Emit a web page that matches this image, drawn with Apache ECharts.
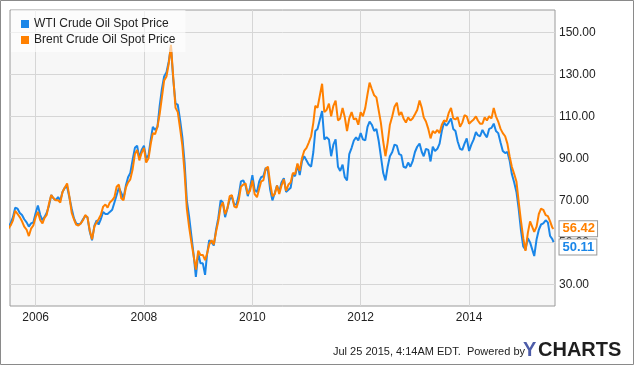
<!DOCTYPE html>
<html>
<head>
<meta charset="utf-8">
<script src="https://cdn.jsdelivr.net/npm/echarts@6/dist/echarts.min.js"></script>
<style>
  html, body { margin: 0; padding: 0; background: #fff; }
  #chart { width: 635px; height: 366px; }
</style>
</head>
<body>
<div id="chart"></div>
<script>
var chartDom = document.getElementById('chart');
var chart = echarts.init(chartDom, null, { renderer: 'canvas' });

// sampling: two points per month (1st and 16th), starting July 2005
var startYear = 2005, startMonth = 7;
var lastDate = '2015-07-24';

// WTI Crude Oil Spot Price, two values per month
var wti = [
  57.5, 59.0,  62.0, 66.5,  66.0, 64.0,  63.0, 61.0,  59.5, 57.5,  59.0, 59.5,
  64.0, 67.5,  63.0, 60.5,  62.0, 64.0,  67.5, 72.5,  71.0, 70.0,  71.5, 70.0,
  74.0, 76.0,  76.5, 71.5,  66.0, 61.5,  59.0, 58.5,  59.0, 61.0,  62.5, 62.0,
  55.0, 51.0,  58.0, 60.5,  58.5, 61.0,  64.5, 63.5,  63.5, 64.5,  65.5, 69.0,
  72.5, 76.0,  73.5, 71.0,  77.0, 81.0,  83.0, 89.0,  95.0, 96.0,  90.0, 94.0,
  96.0, 90.0,  91.5, 99.0,  105.0, 103.5,  105.0, 115.0,  123.0, 129.0,  131.0, 136.0,
  143.0, 128.0,  116.0, 115.5,  108.0, 100.0,  88.0, 70.0,  62.0, 53.0,  44.0, 33.5,
  45.0, 40.0,  40.0, 34.5,  44.0, 51.0,  50.0, 48.5,  56.0, 61.5,  70.0, 69.0,
  62.0, 66.0,  70.5, 71.5,  68.0, 68.0,  72.5, 79.0,  79.5, 77.0,  72.0, 76.0,
  82.0, 75.0,  74.0, 79.0,  81.0, 81.5,  85.5, 84.0,  75.0, 70.0,  73.5, 77.0,
  74.0, 78.5,  80.5, 74.0,  75.0, 76.0,  82.5, 81.5,  87.0, 82.0,  88.5, 91.0,
  89.0, 87.0,  86.0, 93.0,  103.0, 104.0,  108.5, 112.5,  99.0, 100.0,  99.0, 91.0,
  96.5, 99.0,  86.0, 84.0,  87.0, 81.0,  79.5, 92.0,  95.0, 98.5,  100.0, 98.5,
  102.0, 99.0,  98.5, 105.0,  107.5, 106.0,  103.0, 104.0,  98.5, 91.0,  83.0, 79.5,
  86.0, 91.0,  93.0, 96.5,  96.0, 92.0,  91.5, 86.0,  85.5, 88.0,  86.0, 88.5,
  93.0, 95.5,  97.0, 93.0,  91.0, 94.5,  94.0, 88.5,  95.5, 93.5,  94.5, 97.0,
  103.0, 107.0,  105.5, 107.0,  109.0, 104.0,  103.0, 98.0,  94.5, 94.0,  97.0, 99.5,
  93.5, 96.5,  99.0, 102.5,  101.0, 100.5,  103.5, 101.5,  100.0, 104.0,  104.5, 106.5,
  103.0, 102.0,  97.5, 93.5,  92.5, 93.0,  89.0, 82.5,  78.5, 74.0,  66.0, 56.0,
  48.0, 46.5,  52.0, 50.0,  49.5, 43.5,  51.5, 56.0,  58.5, 59.0,  60.5, 59.5,
  53.0, 51.5,
  50.11
];

// Brent Crude Oil Spot Price, two values per month
var brent = [
  56.5, 58.0,  60.5, 65.0,  63.5, 62.0,  60.0, 57.5,  56.0, 53.0,  56.5, 58.0,
  62.0, 64.5,  60.5, 59.0,  61.5, 63.0,  68.5, 72.5,  71.0, 70.0,  70.0, 69.0,
  74.0, 76.0,  78.0, 72.0,  64.0, 61.0,  58.5, 58.0,  59.0, 60.5,  63.0, 62.0,
  55.5, 51.5,  57.5, 59.5,  61.0, 63.0,  67.0, 68.0,  66.5, 69.0,  70.0, 71.5,
  76.5, 77.5,  71.0, 70.0,  76.0, 78.5,  80.0, 84.5,  92.0, 94.0,  89.0, 92.5,
  95.0, 88.0,  90.0, 97.0,  102.0, 101.5,  105.0, 111.0,  119.0, 127.0,  129.0, 135.0,
  144.0, 129.0,  114.0, 112.0,  104.0, 96.0,  83.0, 66.0,  57.0, 50.0,  43.5, 37.0,
  46.0, 44.0,  44.0, 41.5,  44.5, 49.0,  51.0, 49.0,  55.0, 60.0,  67.0, 69.0,
  63.5, 66.0,  72.0, 72.5,  67.0, 66.5,  70.0, 76.5,  77.5, 78.0,  73.0, 74.5,
  79.5, 73.0,  71.5, 75.5,  79.0, 79.5,  85.0, 86.0,  78.0, 72.0,  73.0, 77.0,
  73.0, 77.0,  80.0, 74.5,  77.5, 78.5,  83.0, 82.5,  87.5, 84.0,  90.0, 93.5,
  95.0, 97.5,  100.5, 107.0,  115.0, 114.0,  120.0, 125.5,  112.0, 113.0,  116.0, 110.0,
  115.0, 117.5,  108.0, 109.0,  114.0, 109.5,  103.0, 109.0,  112.0, 108.5,  109.0, 106.0,
  112.0, 110.0,  114.0, 120.5,  126.0, 123.0,  120.0, 119.0,  113.0, 107.0,  98.0, 91.0,
  97.5, 106.0,  110.0, 114.5,  116.5, 110.5,  112.0, 109.0,  107.0, 109.5,  108.0, 109.0,
  111.0, 113.0,  117.5, 114.0,  109.5, 107.5,  104.0, 99.5,  103.0, 102.0,  103.5, 102.0,
  106.0, 108.0,  107.5, 111.5,  114.0, 109.0,  108.5, 109.5,  105.0, 107.0,  110.5, 110.0,
  106.5, 107.5,  108.5, 110.0,  108.0, 106.5,  106.5, 109.5,  108.0, 110.0,  109.0, 114.0,
  110.0, 107.5,  104.0, 102.0,  100.5, 97.0,  91.0, 86.0,  82.5, 79.0,  69.5, 60.5,
  52.0, 46.0,  54.5, 60.0,  59.5, 55.0,  57.5, 63.5,  66.0, 65.5,  63.0, 62.5,
  60.0, 57.0,
  56.42
];

var yTicks = [30, 50, 70, 90, 110, 130, 150];
var xTickYears = [2006, 2008, 2010, 2012, 2014];

function pad(n) { return n < 10 ? '0' + n : '' + n; }
function toTime(s) { var p = s.split('-'); return new Date(+p[0], +p[1] - 1, +p[2]).getTime(); }

var dates = [];
for (var i = 0; i < wti.length - 1; i++) {
  var m = startMonth - 1 + Math.floor(i / 2);
  var y = startYear + Math.floor(m / 12);
  var day = i % 2 === 0 ? '01' : '16';
  dates.push(y + '-' + pad(m % 12 + 1) + '-' + day);
}
dates.push(lastDate);

function pairs(values) {
  return values.map(function (v, i) { return [toTime(dates[i]), v]; });
}

var xTicks = xTickYears.map(function (y) { return new Date(y, 0, 1).getTime(); });

var blue = '#1a86e8';
var orange = '#ff8000';

function endLabel(color, offsetY) {
  return {
    show: true,
    formatter: function (p) { return p.value[1].toFixed(2); },
    color: color, fontWeight: 'bold', fontSize: 13,
    fontFamily: 'Liberation Sans, Arial',
    backgroundColor: '#fff', borderColor: '#999', borderWidth: 1,
    padding: [1, 2, 1, 3], distance: 6, offset: [0, offsetY]
  };
}

var option = {
  animation: false,
  grid: {
    left: 10, top: 10, width: 545, height: 296,
    show: true, backgroundColor: '#f7f7f7', borderColor: '#9a9a9a', borderWidth: 1
  },
  legend: {
    orient: 'vertical',
    left: 11, top: 10,
    padding: [7, 10, 5, 10],
    itemGap: 2,
    itemWidth: 8, itemHeight: 8,
    icon: 'rect',
    backgroundColor: 'rgba(255,255,255,0.6)',
    textStyle: { fontFamily: 'Liberation Sans, Arial', fontSize: 12, color: '#222', lineHeight: 14 },
    data: ['WTI Crude Oil Spot Price', 'Brent Crude Oil Spot Price']
  },
  xAxis: {
    type: 'value',
    min: toTime('2005-07-12'), max: toTime('2015-08-03'),
    axisLine: { show: false },
    axisTick: { show: false, customValues: xTicks },
    axisLabel: {
      customValues: xTicks,
      formatter: function (v) { return String(new Date(v).getFullYear()); },
      fontFamily: 'Liberation Sans, Arial', fontSize: 12, color: '#222', margin: 6
    },
    splitLine: { show: true, lineStyle: { color: '#d6d6d6', width: 1 } }
  },
  yAxis: {
    type: 'value',
    position: 'right',
    min: 19.7, max: 160.6,
    axisLine: { show: false },
    axisTick: { show: false, customValues: yTicks },
    axisLabel: {
      customValues: yTicks,
      formatter: function (v) { return v.toFixed(2); },
      fontFamily: 'Liberation Sans, Arial', fontSize: 12, color: '#222', margin: 4
    },
    splitLine: { show: true, lineStyle: { color: '#d6d6d6', width: 1 } }
  },
  series: [
    {
      name: 'WTI Crude Oil Spot Price',
      type: 'line',
      data: pairs(wti),
      showSymbol: false,
      color: blue,
      lineStyle: { width: 2, color: blue },
      endLabel: endLabel(blue, 5)
    },
    {
      name: 'Brent Crude Oil Spot Price',
      type: 'line',
      data: pairs(brent),
      showSymbol: false,
      color: orange,
      lineStyle: { width: 2, color: orange },
      endLabel: endLabel(orange, 0)
    }
  ],
  graphic: [
    {
      type: 'rect', silent: true,
      shape: { x: 0.5, y: 0.5, width: 633, height: 364 },
      style: { fill: 'none', stroke: '#8a8a8a', lineWidth: 1 }
    },
    {
      type: 'text', left: 333, top: 346,
      style: { text: 'Jul 25 2015, 4:14AM EDT.  Powered by', font: '11px Liberation Sans, Arial', fill: '#222' }
    },
    {
      type: 'text', left: 523, top: 340,
      style: { text: 'Y', font: 'bold 20px Liberation Sans, Arial', fill: '#4d5ca8' }
    },
    {
      type: 'text', left: 538, top: 340,
      style: { text: 'CHARTS', font: 'bold 20px Liberation Sans, Arial', fill: '#1e1e1e' }
    }
  ]
};

chart.setOption(option);
window.addEventListener('resize', function () {
  chart.resize();
});
</script>
</body>
</html>
